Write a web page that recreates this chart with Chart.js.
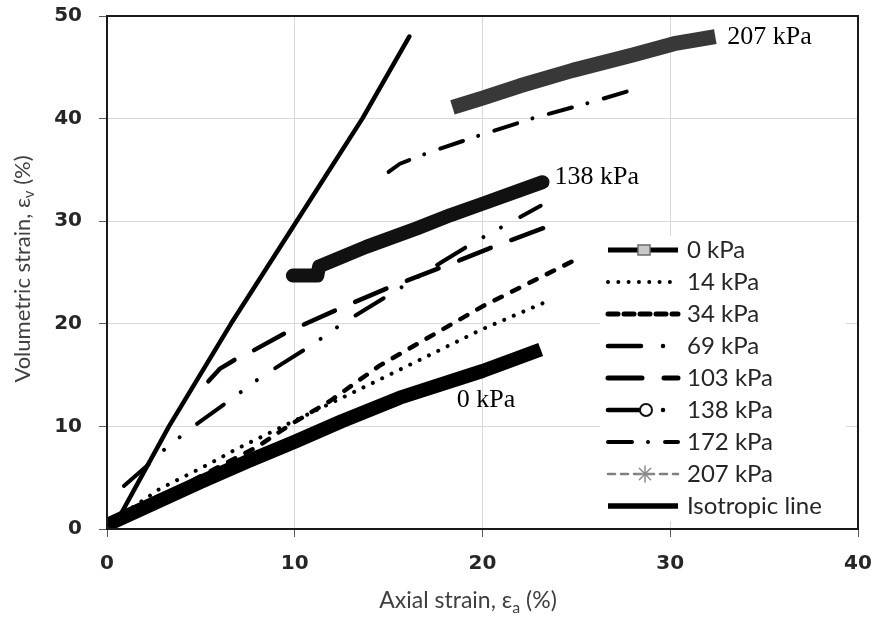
<!DOCTYPE html>
<html><head><meta charset="utf-8">
<script src="https://cdn.jsdelivr.net/npm/chart.js@4.4.0/dist/chart.umd.min.js"></script>
<style>html,body{margin:0;padding:0;background:#fff;}#wrap{width:876px;height:619px;position:relative;}</style>
</head><body><div id="wrap"><canvas id="c" width="876" height="619"></canvas></div>
<script>
// ---- data ----
const xTickValues = [0, 10, 20, 30, 40];
const yTickValues = [0, 10, 20, 30, 40, 50];
const seriesNames = ['0 kPa', '14 kPa', '34 kPa', '69 kPa', '103 kPa', '138 kPa', '172 kPa', '207 kPa', 'Isotropic line'];

const kpa0X = [0, 2.5, 5, 7.5, 10, 12.5, 15.6, 20, 23.1];
const kpa0Y = [0.4, 2.5, 4.6, 6.6, 8.5, 10.5, 12.8, 15.4, 17.5];

const kpa14X = [0, 2.8, 5.5, 6.9, 9.7, 14, 19.9, 23.2];
const kpa14Y = [0.4, 3.9, 6.4, 7.8, 10.3, 14.1, 19.4, 22.0];

const kpa34X = [0, 4, 8, 9.7, 11.9, 14.5, 20, 24.8];
const kpa34Y = [0.4, 4.2, 8.0, 10.1, 12.5, 15.9, 21.7, 26.1];

const kpa69X = [0.9, 2.4, 3.2, 4.9, 6.5, 8.2, 10.8, 12.6, 15.2, 17.9, 19.6, 21.5, 23.1];
const kpa69Y = [4.2, 6.6, 8.0, 10.4, 12.5, 14.8, 17.8, 20.1, 23.0, 26.1, 28.0, 29.9, 31.5];

const kpa103X = [5.4, 6.0, 6.9, 7.8, 9.6, 12.4, 15.1, 18.8, 20.7, 23.5];
const kpa103Y = [14.4, 15.6, 16.6, 17.4, 19.2, 21.5, 23.6, 26.2, 27.6, 29.5];

const kpa138X = [9.9, 11.2, 11.3, 13.8, 16.5, 18.3, 20, 23.2];
const kpa138Y = [24.7, 24.7, 25.6, 27.5, 29.3, 30.6, 31.7, 33.8];

const kpa172X = [15.0, 15.6, 16.3, 17.0, 19.9, 22.8, 25.8, 28.0];
const kpa172Y = [34.8, 35.6, 36.1, 36.6, 38.4, 40.1, 41.6, 42.8];

const kpa207X = [18.4, 20, 22, 24.8, 28, 30.2, 32.4];
const kpa207Y = [41.1, 42.0, 43.2, 44.7, 46.2, 47.3, 48.0];

const isoX = [0.3, 3.3, 6.6, 10.1, 13.6, 16.1];
const isoY = [0, 10, 20, 30, 40, 48];

const xTitleParts = [['Axial strain, ε', false], ['a', true], [' (%)', false]];
const yTitleParts = [['Volumetric strain, ε', false], ['v', true], [' (%)', false]];
// ---------------------------------------

function pts(xs, ys) { return xs.map((x, i) => ({ x: x, y: ys[i] })); }

const seriesXY = [[kpa0X, kpa0Y], [kpa14X, kpa14Y], [kpa34X, kpa34Y], [kpa69X, kpa69Y], [kpa103X, kpa103Y],
  [kpa138X, kpa138Y], [kpa172X, kpa172Y], [kpa207X, kpa207Y], [isoX, isoY]];

const styles = [
  { c: '#000', w: 14, dash: [], cap: 'butt', lw: 5, ldash: [], marker: 'square' },
  { c: '#000', w: 4, dash: [0.01, 10.4], cap: 'round', lw: 4, ldash: [0.01, 10.3] },
  { c: '#000', w: 4.5, dash: [8, 11.5], cap: 'round', lw: 5, ldash: [10, 6], lcap: 'round' },
  { c: '#000', w: 4, dash: [33, 21, 0.01, 20, 0.01, 22], cap: 'round', lw: 4.5, ldash: [33, 22, 0.01, 30] },
  { c: '#000', w: 4.5, dash: [34, 22], cap: 'round', lw: 5, ldash: [34, 22] },
  { c: '#111', w: 14, dash: [], cap: 'round', lw: 4.5, ldash: [33, 22, 0.01, 30], marker: 'circle' },
  { c: '#000', w: 4, dash: [24, 16, 0.01, 17], cap: 'round', lw: 4, ldash: [24, 16, 0.01, 17] },
  { c: '#383838', w: 15, dash: [], cap: 'butt', lw: 2.5, ldash: [7, 6], lcolor: '#7f7f7f', marker: 'star' },
  { c: '#000', w: 4.5, dash: [], cap: 'round', lw: 5.5, ldash: [] }
];

const datasets = seriesNames.map((name, i) => ({
  label: name,
  data: pts(seriesXY[i][0], seriesXY[i][1]),
  showLine: true,
  borderColor: styles[i].c,
  backgroundColor: styles[i].c,
  borderWidth: styles[i].w,
  borderDash: styles[i].dash,
  borderCapStyle: styles[i].cap,
  borderJoinStyle: 'round',
  pointRadius: 0,
  pointHoverRadius: 0,
  tension: 0,
  fill: false
}));

function drawParts(ctx, parts, cx, cy, size) {
  const mainFont = size + 'px Lato';
  const subFont = Math.round(size * 0.7) + 'px Lato';
  let total = 0;
  parts.forEach(p => { ctx.font = p[1] ? subFont : mainFont; total += ctx.measureText(p[0]).width; });
  let x = cx - total / 2;
  parts.forEach(p => {
    ctx.font = p[1] ? subFont : mainFont;
    ctx.fillText(p[0], x, p[1] ? cy + size * 0.28 : cy);
    x += ctx.measureText(p[0]).width;
  });
}

const extrasPlugin = {
  id: 'extras',
  afterDatasetsDraw(chart) {
    const ctx = chart.ctx, xs = chart.scales.x, ys = chart.scales.y, a = chart.chartArea;
    ctx.save();
    ctx.strokeStyle = '#1a1a1a'; ctx.lineWidth = 2;
    ctx.strokeRect(a.left, a.top, a.right - a.left, a.bottom - a.top);
    ctx.fillStyle = '#000';
    ctx.font = '26px "Liberation Serif"';
    ctx.textBaseline = 'middle'; ctx.textAlign = 'left';
    const lab = [[7, '207 kPa', 12, 1], [5, '138 kPa', 12, -5], [0, '0 kPa', -84, 51]];
    lab.forEach(l => {
      const s = seriesXY[l[0]];
      const n = s[0].length - 1;
      ctx.fillText(l[1], xs.getPixelForValue(s[0][n]) + l[2], ys.getPixelForValue(s[1][n]) + l[3]);
    });
    const lx0 = 600, ly0 = 236;
    ctx.fillStyle = '#fff';
    ctx.fillRect(lx0, ly0, 246, 285);
    for (let i = 0; i < seriesNames.length; i++) {
      const st = styles[i];
      const yy = 250 + i * 32;
      ctx.save();
      ctx.beginPath();
      ctx.setLineDash(st.ldash);
      ctx.lineCap = st.lcap || (st.ldash.length ? 'round' : 'butt');
      ctx.lineWidth = st.lw;
      ctx.strokeStyle = st.lcolor || '#000';
      ctx.moveTo(608, yy); ctx.lineTo(678, yy);
      ctx.stroke();
      ctx.setLineDash([]);
      if (st.marker === 'square') {
        ctx.fillStyle = '#c8c8c8'; ctx.strokeStyle = '#6a6a6a'; ctx.lineWidth = 1.5;
        ctx.fillRect(638, yy - 5, 12, 10); ctx.strokeRect(638, yy - 5, 12, 10);
      } else if (st.marker === 'circle') {
        ctx.beginPath(); ctx.arc(646, yy, 6, 0, Math.PI * 2);
        ctx.fillStyle = '#fff'; ctx.fill(); ctx.strokeStyle = '#111'; ctx.lineWidth = 2; ctx.stroke();
      } else if (st.marker === 'star') {
        ctx.strokeStyle = '#8a8a8a'; ctx.lineWidth = 1.5; ctx.beginPath();
        for (let k = 0; k < 4; k++) {
          const ang = k * Math.PI / 4;
          ctx.moveTo(645 - 8 * Math.cos(ang), yy - 8 * Math.sin(ang));
          ctx.lineTo(645 + 8 * Math.cos(ang), yy + 8 * Math.sin(ang));
        }
        ctx.stroke();
      }
      ctx.restore();
      ctx.fillStyle = '#262626';
      ctx.font = '24px Lato';
      ctx.textBaseline = 'middle'; ctx.textAlign = 'left';
      ctx.fillText(seriesNames[i], 687, yy);
    }
    ctx.fillStyle = '#404040';
    ctx.textBaseline = 'middle'; ctx.textAlign = 'left';
    drawParts(ctx, xTitleParts, 468, 601, 23);
    ctx.save();
    ctx.translate(23, 269); ctx.rotate(-Math.PI / 2);
    drawParts(ctx, yTitleParts, 0, 0, 22);
    ctx.restore();
    ctx.restore();
  }
};

function zeroPad(s) { s.paddingTop = 0; s.paddingBottom = 0; s.paddingLeft = 0; s.paddingRight = 0; }

new Chart(document.getElementById('c'), {
  type: 'scatter',
  data: { datasets: datasets },
  options: {
    responsive: false,
    animation: false,
    events: [],
    layout: { padding: { top: 16, right: 18, left: 0, bottom: 0 } },
    plugins: { legend: { display: false }, tooltip: { enabled: false } },
    scales: {
      x: {
        type: 'linear', min: 0, max: 40,
        afterBuildTicks: s => { s.ticks = xTickValues.map(v => ({ value: v })); },
        afterFit: s => { s.height = 90; zeroPad(s); },
        grid: { color: '#d9d9d9', tickColor: '#595959', tickLength: 8, lineWidth: 1 },
        border: { display: true, color: '#1a1a1a', width: 2 },
        ticks: { font: { family: 'DejaVu Sans', weight: 'bold', size: 20 }, color: '#262626', padding: 15, maxRotation: 0 }
      },
      y: {
        type: 'linear', min: 0, max: 50,
        afterBuildTicks: s => { s.ticks = yTickValues.map(v => ({ value: v })); },
        afterFit: s => { s.width = 107; zeroPad(s); },
        grid: { color: '#d9d9d9', tickColor: '#595959', tickLength: 8, lineWidth: 1 },
        border: { display: true, color: '#1a1a1a', width: 2 },
        ticks: { font: { family: 'DejaVu Sans', weight: 'bold', size: 20 }, color: '#262626', padding: 17 }
      }
    }
  },
  plugins: [extrasPlugin]
});
</script></body></html>
